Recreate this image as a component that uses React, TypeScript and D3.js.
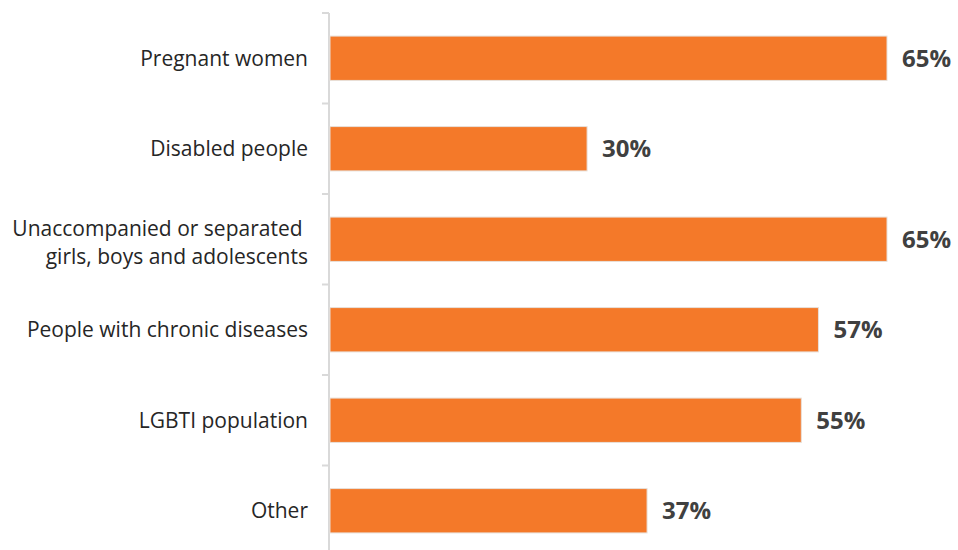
import React from "react";
import * as d3 from "d3";

const categories: string[][] = [
  ["Pregnant women"],
  ["Disabled people"],
  ["Unaccompanied or separated ", "girls, boys and adolescents"],
  ["People with chronic diseases"],
  ["LGBTI population"],
  ["Other"],
];
const values: number[] = [65, 30, 65, 57, 55, 37];
const valueLabels: string[] = ["65%", "30%", "65%", "57%", "55%", "37%"];

const W = 958;
const H = 550;
const axisX = 329;
const top = 13;
const band = 90.5;

export default function App() {
  const y = d3
    .scaleBand<number>()
    .domain(d3.range(categories.length))
    .range([top, top + band * categories.length])
    .paddingInner(0.51)
    .paddingOuter(0.255);
  const x = d3.scaleLinear().domain([0, 65]).range([axisX + 1, 887]);
  const ticks = d3.range(categories.length + 1).map((i) => top + i * band);
  const labelFont = "'Open Sans', 'Noto Sans', sans-serif";
  return (
    <svg
      width={W}
      height={H}
      style={{ position: "absolute", left: 0, top: 0, background: "#fff" }}
    >
      <line x1={axisX} x2={axisX} y1={top} y2={H + 20} stroke="#d9d9d9" strokeWidth={2} />
      {ticks.map((t, i) => (
        <line key={i} x1={axisX - 7} x2={axisX} y1={t} y2={t} stroke="#d9d9d9" strokeWidth={2} />
      ))}
      {values.map((v, i) => {
        const y0 = y(i)!;
        const bh = y.bandwidth();
        const cy = y0 + bh / 2;
        const lines = categories[i];
        const shift = lines.length > 1 ? 3.5 : 0;
        return (
          <g key={i}>
            <rect
              x={x(0)}
              y={y0}
              width={x(v) - x(0)}
              height={bh}
              fill="#F47929"
              stroke="#e8e0da"
              strokeWidth={1}
            />
            <text
              x={x(v) + 15}
              y={cy}
              dy="0.36em"
              fontFamily={labelFont}
              fontWeight="bold"
              fontSize={24}
              fill="#404040"
            >
              {valueLabels[i]}
            </text>
            {lines.map((l, j) => (
              <text
                key={j}
                x={308}
                y={cy + shift + (j - (lines.length - 1) / 2) * 28}
                dy="0.36em"
                textAnchor="end"
                fontFamily={labelFont}
                fontSize={21}
                fill="#262626"
                style={{ whiteSpace: "pre" }}
              >
                {l}
              </text>
            ))}
          </g>
        );
      })}
    </svg>
  );
}
